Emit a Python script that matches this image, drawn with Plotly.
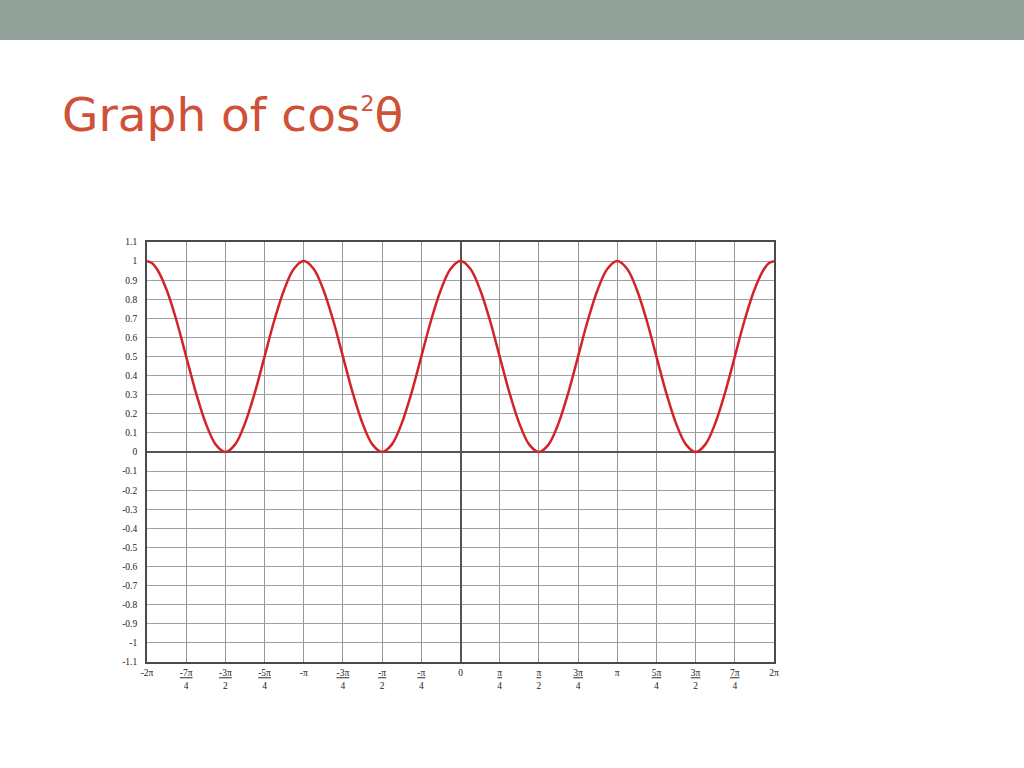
import numpy as np
import plotly.graph_objects as go

# ---- data (theta in units of pi) ----
theta_over_pi = [
    -2.0, -1.96875, -1.9375, -1.875, -1.8125, -1.75, -1.6875, -1.625, -1.5625,
    -1.5, -1.4375, -1.375, -1.3125, -1.25, -1.1875, -1.125, -1.0625,
    -1.0, -0.9375, -0.875, -0.8125, -0.75, -0.6875, -0.625, -0.5625,
    -0.5, -0.4375, -0.375, -0.3125, -0.25, -0.1875, -0.125, -0.0625,
    0.0, 0.0625, 0.125, 0.1875, 0.25, 0.3125, 0.375, 0.4375,
    0.5, 0.5625, 0.625, 0.6875, 0.75, 0.8125, 0.875, 0.9375,
    1.0, 1.0625, 1.125, 1.1875, 1.25, 1.3125, 1.375, 1.4375,
    1.5, 1.5625, 1.625, 1.6875, 1.75, 1.8125, 1.875, 1.9375, 1.96875, 2.0,
]
cos2_values = [
    1.0, 0.99, 0.96, 0.85, 0.69, 0.5, 0.31, 0.15, 0.04,
    0.0, 0.04, 0.15, 0.31, 0.5, 0.69, 0.85, 0.96,
    1.0, 0.96, 0.85, 0.69, 0.5, 0.31, 0.15, 0.04,
    0.0, 0.04, 0.15, 0.31, 0.5, 0.69, 0.85, 0.96,
    1.0, 0.96, 0.85, 0.69, 0.5, 0.31, 0.15, 0.04,
    0.0, 0.04, 0.15, 0.31, 0.5, 0.69, 0.85, 0.96,
    1.0, 0.96, 0.85, 0.69, 0.5, 0.31, 0.15, 0.04,
    0.0, 0.04, 0.15, 0.31, 0.5, 0.69, 0.85, 0.96, 0.99, 1.0,
]

x_tick_over_pi = [-2.0, -1.75, -1.5, -1.25, -1.0, -0.75, -0.5, -0.25, 0.0,
                  0.25, 0.5, 0.75, 1.0, 1.25, 1.5, 1.75, 2.0]
x_tick_labels = ["-2π", "<u>-7π</u><br>4", "<u>-3π</u><br>2", "<u>-5π</u><br>4", "-π",
                 "<u>-3π</u><br>4", "<u>-π</u><br>2", "<u>-π</u><br>4", "0",
                 "<u>π</u><br>4", "<u>π</u><br>2", "<u>3π</u><br>4", "π",
                 "<u>5π</u><br>4", "<u>3π</u><br>2", "<u>7π</u><br>4", "2π"]
y_tick_vals = [1.1, 1.0, 0.9, 0.8, 0.7, 0.6, 0.5, 0.4, 0.3, 0.2, 0.1, 0.0,
               -0.1, -0.2, -0.3, -0.4, -0.5, -0.6, -0.7, -0.8, -0.9, -1.0, -1.1]
y_tick_labels = ["1.1", "1", "0.9", "0.8", "0.7", "0.6", "0.5", "0.4", "0.3", "0.2", "0.1", "0",
                 "-0.1", "-0.2", "-0.3", "-0.4", "-0.5", "-0.6", "-0.7", "-0.8", "-0.9", "-1", "-1.1"]

title_text = "Graph of cos<sup><span style='font-size:22px'>2</span></sup>θ"

x = np.array(theta_over_pi) * np.pi
xt = np.array(x_tick_over_pi) * np.pi

W, H = 1024, 768
L, R, T, B = 147, 250, 242, 106
pw, ph = W - L - R, H - T - B

def px_x(p):
    return (p - L) / pw

def px_y(p):
    return (H - p - B) / ph

fig = go.Figure()
fig.add_trace(go.Scatter(
    x=x, y=cos2_values, mode="lines",
    line=dict(color="#d42328", width=2.5, shape="spline"),
    hoverinfo="skip", showlegend=False,
))

serif = "Liberation Serif, Times New Roman, serif"
fig.update_xaxes(
    range=[-2 * np.pi, 2 * np.pi], tickmode="array", tickvals=xt, ticktext=x_tick_labels,
    showgrid=True, gridcolor="#969696", gridwidth=1.3,
    zeroline=True, zerolinecolor="#555555", zerolinewidth=2.2,
    showline=True, linecolor="#4a4a4a", linewidth=1.8, mirror=True,
    ticks="", tickfont=dict(family=serif, size=9.5, color="#222222"),
    ticklabelstandoff=1,
)
fig.update_yaxes(
    range=[-1.1, 1.1], tickmode="array", tickvals=y_tick_vals, ticktext=y_tick_labels,
    showgrid=True, gridcolor="#a0a0a0", gridwidth=1.3,
    zeroline=True, zerolinecolor="#555555", zerolinewidth=2.2,
    showline=True, linecolor="#4a4a4a", linewidth=1.8, mirror=True,
    ticks="", tickfont=dict(family=serif, size=9.5, color="#222222"),
    ticklabelstandoff=6,
)

fig.add_shape(type="rect", xref="paper", yref="paper",
              x0=px_x(0), x1=px_x(W), y0=px_y(40), y1=px_y(0),
              fillcolor="#92a199", line=dict(width=0), layer="below")

fig.add_annotation(
    text=title_text, xref="paper", yref="paper",
    x=px_x(60), y=px_y(114), xanchor="left", yanchor="middle",
    showarrow=False,
    font=dict(family="DejaVu Sans, Liberation Sans, Arial, sans-serif", size=47, color="#cf5238"),
)

fig.update_layout(
    width=W, height=H, autosize=False,
    margin=dict(l=L, r=R, t=T, b=B),
    paper_bgcolor="white", plot_bgcolor="white",
    showlegend=False,
)

fig.write_html("out.html", config={"displayModeBar": False},
               post_script="document.body.style.margin='0';")
